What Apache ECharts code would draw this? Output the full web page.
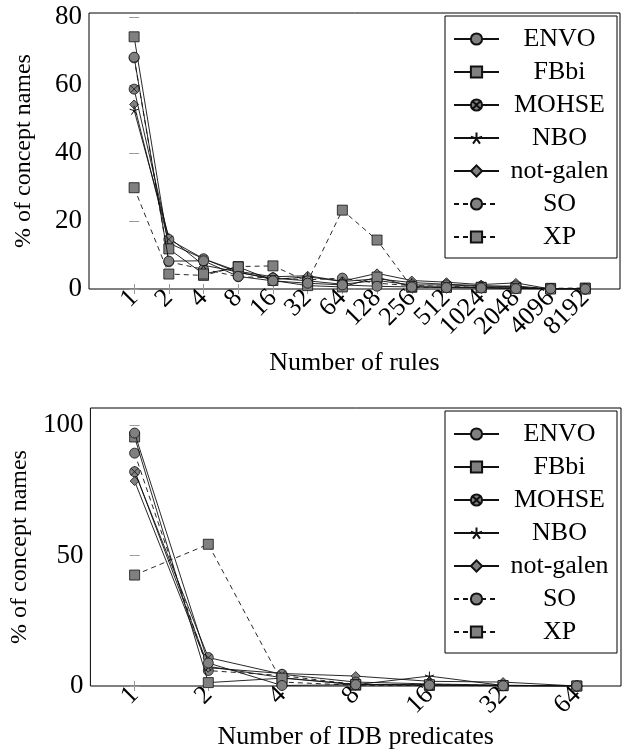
<!DOCTYPE html>
<html>
<head>
<meta charset="utf-8">
<script src="https://cdn.jsdelivr.net/npm/echarts@6/dist/echarts.min.js"></script>
<style>
  html, body { margin: 0; padding: 0; background: #fff; }
  #chart { width: 627px; height: 752px; }
</style>
</head>
<body>
<div id="chart"></div>
<script>
// names of the ontologies
const seriesNames = ['ENVO', 'FBbi', 'MOHSE', 'NBO', 'not-galen', 'SO', 'XP'];

// top chart: % of concept names by number of rules
const ruleLabels = ['1', '2', '4', '8', '16', '32', '64', '128', '256', '512', '1024', '2048', '4096', '8192'];
const rulesENVO = [68.2, 8.2, 8.3, 3.7, 2.4, 1.7, 1.2, 0.8, 0.6, 0.4, 0.3, 0.1, 0.1, 0];
const rulesFBbi = [74.2, 11.8, 4.4, 6.5, 2.5, 1.0, 0.6, 3.5, 0.7, 0.5, 0.4, 0.2, 0, 0];
const rulesMOHSE = [58.8, 14.6, 8.9, 4.8, 3.2, 2.4, 1.4, 2.5, 1.2, 1.2, 0.8, 0.9, 0, 0];
const rulesNBO = [52.6, 15.2, 7.0, 5.0, 2.8, 3.6, 2.2, 3.0, 1.9, 1.4, 1.0, 0.6, 0, 0];
const rulesNotGalen = [54.3, 13.5, 8.9, 5.2, 3.6, 3.9, 2.3, 4.6, 2.5, 2.0, 1.3, 1.8, 0, 0];
const rulesSO = [68.0, 8.0, 5.8, 3.6, 3.3, 2.7, 3.2, 1.7, 1.0, 0.8, 0.5, 0.3, 0.1, 0];
const rulesXP = [29.8, 4.4, 4.0, 6.6, 6.8, 2.2, 23.2, 14.4, 0.5, 0.6, 0.5, 0.5, 0.2, 0.3];
const rulesYTicks = [0, 20, 40, 60, 80];

// bottom chart: % of concept names by number of IDB predicates
const predLabels = ['1', '2', '4', '8', '16', '32', '64'];
const predENVO = [96.9, 8.8, 0.2, 0.5, 0.3, 0.1, 0];
const predFBbi = [95.4, 1.3, 3.0, 0.6, 0.5, 0.2, 0];
const predMOHSE = [82.1, 10.9, 4.5, 1.5, 0.8, 0.3, 0];
const predNBO = [82.5, 7.5, 3.2, 0.5, 3.8, 0.2, 0];
const predNotGalen = [78.5, 7.0, 4.8, 3.8, 1.8, 1.5, 0];
const predSO = [89.2, 5.9, 4.0, 0.6, 0.5, 0.2, 0];
const predXP = [42.5, 54.3, 1.5, 0.3, 0.2, 0.1, 0];
const predYTicks = [0, 50, 100];

const rulesData = [rulesENVO, rulesFBbi, rulesMOHSE, rulesNBO, rulesNotGalen, rulesSO, rulesXP];
const predData = [predENVO, predFBbi, predMOHSE, predNBO, predNotGalen, predSO, predXP];

const FONT = 'Liberation Serif';
const GRAY = '#808080';

// marks: circle, square, circle with x, star, diamond, circle (dashed), square (dashed)
const otimes = 'path://M20,10 A10,10 0 1,1 0,10 A10,10 0 1,1 20,10 Z M2.93,2.93 L17.07,17.07 M17.07,2.93 L2.93,17.07';
const star = 'path://M10,10 L10,0 M10,10 L19.51,6.91 M10,10 L15.88,18.09 M10,10 L4.12,18.09 M10,10 L0.49,6.91';
const marks = ['circle', 'rect', otimes, star, 'diamond', 'circle', 'rect'];
const markSize = [10, 10, 10, 9, 9, 10, 10];
const dashed = [false, false, false, false, false, true, true];

function makeSeries(data, axisIdx) {
  return data.map((vals, i) => ({
    name: seriesNames[i],
    type: 'line',
    xAxisIndex: axisIdx,
    yAxisIndex: axisIdx,
    data: vals.map((v, k) => [k, v]),
    symbol: marks[i],
    symbolSize: markSize[i],
    showAllSymbol: true,
    animation: false,
    lineStyle: { color: '#111', width: 0.9, type: dashed[i] ? [5, 4] : 'solid' },
    itemStyle: i === 3
      ? { color: 'rgba(0,0,0,0)', borderColor: '#111', borderWidth: 1 }
      : { color: GRAY, borderColor: '#111', borderWidth: 0.8 },
    z: 10 - i
  }));
}

const tickIdx = n => Array.from({ length: n }, (_, k) => k);

// labels are split on two bottom axes (even / odd) so the rotated labels never get hidden
function labelStyle(labels, values) {
  return {
    customValues: values, rotate: 45, margin: 5,
    fontFamily: FONT, fontSize: 26, color: '#000',
    formatter: v => labels[Math.round(v)]
  };
}

function xAxes(gridIndex, labels, min, max, nameText, nameGap) {
  const ticks = tickIdx(labels.length);
  return [{
    type: 'value', gridIndex, min, max, position: 'bottom',
    name: nameText, nameLocation: 'middle', nameGap,
    nameTextStyle: { fontFamily: FONT, fontSize: 26, color: '#000' },
    axisLine: { show: false },
    axisTick: { inside: true, length: 5, customValues: ticks, lineStyle: { color: '#999' } },
    axisLabel: labelStyle(labels, ticks.filter(k => k % 2 === 0)),
    splitLine: { show: false }
  }, {
    type: 'value', gridIndex, min, max, position: 'top',
    axisLine: { show: false },
    axisTick: { inside: true, length: 5, customValues: ticks, lineStyle: { color: '#999' } },
    axisLabel: { show: false },
    splitLine: { show: false }
  }];
}

function oddLabelAxis(gridIndex, labels, min, max) {
  const ticks = tickIdx(labels.length);
  return {
    type: 'value', gridIndex, min, max, position: 'bottom', offset: 0,
    axisLine: { show: false },
    axisTick: { show: false },
    axisLabel: labelStyle(labels, ticks.filter(k => k % 2 === 1)),
    splitLine: { show: false }
  };
}

function yAxes(gridIndex, ticks, max, nameGap) {
  return [{
    type: 'value', gridIndex, min: 0, max, position: 'left',
    name: '% of concept names', nameLocation: 'middle', nameGap,
    nameTextStyle: { fontFamily: FONT, fontSize: 24, color: '#000' },
    axisLine: { show: false },
    axisTick: { inside: true, length: 5, customValues: ticks, lineStyle: { color: '#999' } },
    axisLabel: { customValues: ticks, margin: 7, fontFamily: FONT, fontSize: 27, color: '#000' },
    splitLine: { show: false }
  }, {
    type: 'value', gridIndex, min: 0, max, position: 'right',
    axisLine: { show: false },
    axisTick: { inside: true, length: 5, customValues: ticks, lineStyle: { color: '#999' } },
    axisLabel: { show: false },
    splitLine: { show: false }
  }];
}

function legendAt(top) {
  return {
    orient: 'vertical', left: 445, top,
    data: seriesNames,
    itemWidth: 45, itemHeight: 14, itemGap: 7,
    padding: [10, 2, 8, 8],
    borderColor: '#000', borderWidth: 1, backgroundColor: '#fff',
    selectedMode: false,
    formatter: '{t|{name}}',
    textStyle: {
      rich: { t: { width: 111, align: 'center', fontFamily: FONT, fontSize: 26, lineHeight: 24, color: '#000' } }
    }
  };
}

const chart = echarts.init(document.getElementById('chart'), null, { renderer: 'canvas' });

const rulesMin = -1.3, rulesMax = 14.0;
const predMin = -0.6, predMax = 6.6;

chart.setOption({
  backgroundColor: '#fff',
  animation: false,
  grid: [
    { left: 89, right: 7, top: 13, bottom: 463, show: true, borderColor: '#000', borderWidth: 1 },
    { left: 87, right: 6, top: 408, bottom: 66, show: true, borderColor: '#000', borderWidth: 1 }
  ],
  xAxis: [
    ...xAxes(0, ruleLabels, rulesMin, rulesMax, 'Number of rules', 61),
    ...xAxes(1, predLabels, predMin, predMax, 'Number of IDB predicates', 38),
    oddLabelAxis(0, ruleLabels, rulesMin, rulesMax),
    oddLabelAxis(1, predLabels, predMin, predMax)
  ],
  yAxis: [
    ...yAxes(0, rulesYTicks, 81.2, 53),
    ...yAxes(1, predYTicks, 106.5, 53)
  ],
  legend: [legendAt(16), legendAt(411)],
  series: [...makeSeries(rulesData, 0), ...makeSeries(predData, 2)]
});
</script>
</body>
</html>
